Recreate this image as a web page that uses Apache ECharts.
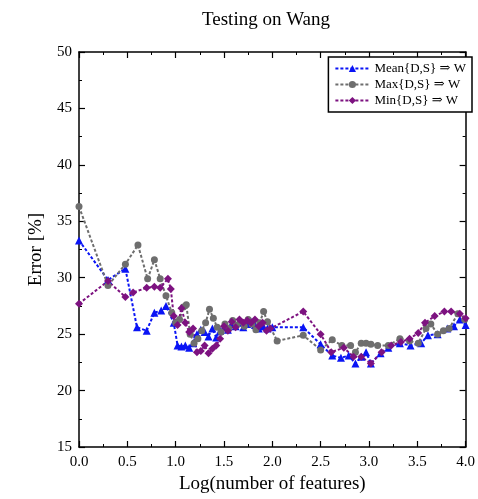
<!DOCTYPE html>
<html>
<head>
<meta charset="UTF-8">
<title>Testing on Wang</title>
<script src="https://cdn.jsdelivr.net/npm/echarts@6/dist/echarts.min.js"></script>
<style>
  html, body { margin: 0; padding: 0; background: #fff; }
  #main { width: 478px; height: 499px; }
</style>
</head>
<body>
<div id="main"></div>
<script>
// Mean{D,S} => W
var meanX = [0, 0.30, 0.48, 0.60, 0.70, 0.78, 0.85, 0.90, 0.98, 1.02, 1.06, 1.10, 1.14, 1.18, 1.22, 1.26, 1.30, 1.34, 1.38, 1.42, 1.46, 1.50, 1.54, 1.58, 1.62, 1.66, 1.70, 1.74, 1.78, 1.82, 1.86, 1.90, 1.95, 2.00, 2.32, 2.50, 2.62, 2.71, 2.79, 2.86, 2.92, 2.97, 3.02, 3.12, 3.20, 3.32, 3.43, 3.54, 3.61, 3.71, 3.81, 3.88, 3.94, 4.00];
var meanY = [33.3, 29.8, 30.8, 25.6, 25.3, 26.9, 27.1, 27.5, 26.0, 24.0, 23.9, 24.0, 23.8, 24.2, 25.0, 25.4, 25.2, 24.8, 25.5, 24.7, 25.3, 25.6, 25.4, 25.9, 25.7, 26.0, 25.6, 25.9, 26.1, 25.8, 25.5, 25.7, 25.5, 25.6, 25.6, 24.1, 23.1, 22.9, 23.1, 22.4, 23.0, 23.4, 22.4, 23.3, 23.8, 24.2, 24.0, 24.2, 24.9, 25.0, 25.5, 25.7, 26.3, 25.8];

// Max{D,S} => W
var maxX = [0, 0.30, 0.48, 0.61, 0.71, 0.78, 0.84, 0.90, 0.96, 1.00, 1.04, 1.08, 1.11, 1.15, 1.19, 1.23, 1.27, 1.31, 1.35, 1.39, 1.43, 1.47, 1.51, 1.55, 1.59, 1.63, 1.67, 1.71, 1.75, 1.79, 1.83, 1.87, 1.91, 1.95, 2.05, 2.32, 2.50, 2.62, 2.72, 2.81, 2.86, 2.92, 2.97, 3.02, 3.09, 3.20, 3.32, 3.42, 3.51, 3.59, 3.64, 3.71, 3.77, 3.83, 3.92, 3.99];
var maxY = [36.3, 29.3, 31.2, 32.9, 29.9, 31.6, 29.9, 28.4, 26.9, 26.0, 26.3, 27.4, 27.6, 25.0, 24.2, 24.6, 25.3, 26.0, 27.2, 26.4, 25.6, 25.2, 25.9, 25.5, 26.2, 25.8, 26.1, 25.7, 26.3, 25.9, 25.4, 26.0, 27.0, 26.1, 24.4, 24.9, 23.6, 24.5, 24.0, 24.0, 23.4, 24.2, 24.2, 24.1, 24.0, 24.0, 24.6, 24.4, 24.2, 25.5, 25.9, 25.0, 25.3, 25.5, 26.8, 26.3];

// Min{D,S} => W
var minX = [0, 0.30, 0.48, 0.56, 0.70, 0.78, 0.84, 0.92, 0.95, 0.98, 1.02, 1.06, 1.10, 1.14, 1.18, 1.22, 1.26, 1.30, 1.34, 1.38, 1.42, 1.46, 1.50, 1.54, 1.58, 1.62, 1.66, 1.70, 1.74, 1.78, 1.82, 1.86, 1.90, 1.94, 1.98, 2.32, 2.50, 2.61, 2.74, 2.84, 2.92, 3.02, 3.13, 3.23, 3.33, 3.42, 3.51, 3.58, 3.68, 3.78, 3.85, 3.94, 4.00];
var minY = [27.7, 29.7, 28.3, 28.7, 29.1, 29.2, 29.1, 29.9, 29.0, 26.6, 25.8, 27.3, 26.0, 25.2, 25.5, 23.4, 23.5, 24.0, 23.3, 23.7, 24.0, 24.6, 25.7, 25.3, 26.1, 25.6, 26.3, 26.0, 26.2, 26.0, 26.3, 25.7, 26.0, 25.3, 25.5, 27.0, 25.0, 23.4, 23.8, 23.0, 23.0, 22.4, 23.4, 24.0, 24.3, 24.6, 25.1, 26.0, 26.6, 27.0, 27.0, 26.8, 26.4];

var seriesNames = ['Mean{D,S} \u21D2 W', 'Max{D,S} \u21D2 W', 'Min{D,S} \u21D2 W'];

function pairs(xs, ys) {
  return xs.map(function (x, i) { return [x, ys[i]]; });
}

var serif = '"Liberation Serif", "DejaVu Serif", serif';

function mkSeries(name, data, color, symbol, size) {
  return {
    name: name,
    type: 'line',
    data: data,
    symbol: symbol,
    symbolSize: size,
    xAxisIndex: 0,
    yAxisIndex: 0,
    lineStyle: { color: color, width: 2, type: [3, 2] },
    itemStyle: { color: color },
    animation: false
  };
}

var frameAxis = {
  axisLine: { show: true, onZero: false, lineStyle: { color: '#000', width: 1.5 } },
  axisTick: { show: true, inside: true, length: 6, lineStyle: { color: '#000', width: 1.2 } },
  minorTick: { show: true, splitNumber: 2, length: 3, lineStyle: { color: '#000', width: 1 } },
  splitLine: { show: false }
};

var myChart = echarts.init(document.getElementById('main'));
var option = {
  backgroundColor: '#fff',
  title: {
    text: 'Testing on Wang',
    left: 197,
    top: 6,
    textStyle: { fontFamily: serif, fontSize: 19, fontWeight: 'normal', color: '#000' }
  },
  legend: {
    orient: 'vertical',
    right: 6,
    top: 57,
    padding: [5, 6, 5, 6],
    itemGap: 3,
    itemWidth: 34,
    itemHeight: 9,
    borderColor: '#000',
    borderWidth: 1.5,
    backgroundColor: '#fff',
    data: seriesNames,
    textStyle: { fontFamily: serif, fontSize: 13, color: '#000' }
  },
  grid: { left: 79, right: 10, top: 52, bottom: 46 },
  xAxis: [
    Object.assign({
      type: 'value', min: 0, max: 4, interval: 0.5, position: 'bottom',
      name: 'Log(number of features)', nameLocation: 'middle', nameGap: 28,
      nameTextStyle: { fontFamily: serif, fontSize: 19, color: '#000' },
      axisLabel: {
        fontFamily: serif, fontSize: 15, color: '#000', margin: 8,
        formatter: function (v) { return v.toFixed(1); }
      }
    }, frameAxis),
    Object.assign({
      type: 'value', min: 0, max: 4, interval: 0.5, position: 'top',
      axisLabel: { show: false }
    }, frameAxis)
  ],
  yAxis: [
    Object.assign({
      type: 'value', min: 15, max: 50, interval: 5, position: 'left',
      name: 'Error [%]', nameLocation: 'middle', nameGap: 33,
      nameTextStyle: { fontFamily: serif, fontSize: 19, color: '#000' },
      axisLabel: { fontFamily: serif, fontSize: 15, color: '#000', margin: 7 }
    }, frameAxis),
    Object.assign({
      type: 'value', min: 15, max: 50, interval: 5, position: 'right',
      axisLabel: { show: false }
    }, frameAxis)
  ],
  series: [
    mkSeries(seriesNames[0], pairs(meanX, meanY), '#0a14f5', 'triangle', 8),
    mkSeries(seriesNames[1], pairs(maxX, maxY), '#6e6e6e', 'circle', 7),
    mkSeries(seriesNames[2], pairs(minX, minY), '#7d1280', 'diamond', 8)
  ]
};
myChart.setOption(option);
</script>
</body>
</html>
